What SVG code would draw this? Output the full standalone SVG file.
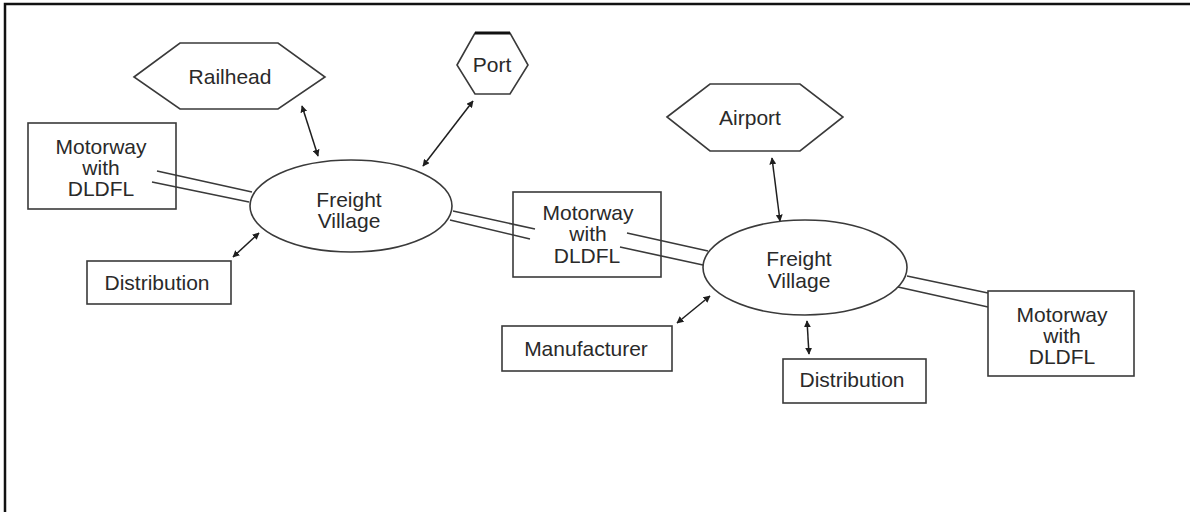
<svg xmlns="http://www.w3.org/2000/svg" width="1190" height="512" viewBox="0 0 1190 512">
  <style>
    .shape { fill: #ffffff; stroke: #3a3a3a; stroke-width: 1.6; }
    .road { fill: none; stroke: #3a3a3a; stroke-width: 1.6; }
    .link { fill: none; stroke: #1e1e1e; stroke-width: 1.5; marker-start: url(#head); marker-end: url(#head); }
    .label { font-family: "Liberation Sans", Arial, sans-serif; font-size: 21px; fill: #2a2a2a; text-anchor: middle; }
  </style>
  <defs>
    <marker id="head" viewBox="0 0 10 10" refX="9" refY="5" markerWidth="7" markerHeight="7" markerUnits="userSpaceOnUse" orient="auto-start-reverse">
      <path d="M0,0 L10,5 L0,10 Z" fill="#1e1e1e"/>
    </marker>
  </defs>

  <rect width="1190" height="512" fill="#ffffff"/>
  <!-- page frame (top and left edges) -->
  <path d="M5,520 V4 H1200" fill="none" stroke="#111" stroke-width="2.5"/>

  <!-- motorway links (double lines) -->
  <g id="roads">
    <path class="road" d="M157,171 L252,192 M152,182 L249,202"/>
    <path class="road" d="M453,211 L535,229 M450,220 L530,239"/>
    <path class="road" d="M627,233 L708,251 M620,247 L703,265"/>
    <path class="road" d="M907,276 L988,293 M898,287 L988,307"/>
  </g>

  <!-- two-way connectors -->
  <g id="connectors">
    <path class="link" d="M302,106 L318,156"/>
    <path class="link" d="M473,101 L423,166"/>
    <path class="link" d="M233,257 L259,233"/>
    <path class="link" d="M772,158 L780,221"/>
    <path class="link" d="M677,323 L710,296"/>
    <path class="link" d="M807,321 L809,354"/>
  </g>

  <g id="railhead">
    <polygon class="shape" points="134,77 180,43 278,43 325,77 278,109 180,109"/>
    <text class="label" x="230" y="84">Railhead</text>
  </g>

  <g id="port">
    <polygon class="shape" points="457,65 475,33 510,33 528,65 510,94 475,94"/>
    <line x1="475" y1="33" x2="510" y2="33" stroke="#111" stroke-width="3"/>
    <text class="label" x="492" y="72">Port</text>
  </g>

  <g id="airport">
    <polygon class="shape" points="667,117 710,84 800,84 843,117 800,151 710,151"/>
    <text class="label" x="750" y="125">Airport</text>
  </g>

  <g id="motorway-west">
    <rect class="shape" x="28" y="123" width="148" height="86" style="fill:none"/>
    <text class="label" x="101" y="154">Motorway</text>
    <text class="label" x="101" y="175">with</text>
    <text class="label" x="101" y="196">DLDFL</text>
  </g>

  <g id="freight-village-west">
    <ellipse class="shape" cx="351" cy="206" rx="101" ry="46"/>
    <text class="label" x="349" y="207">Freight</text>
    <text class="label" x="349" y="228">Village</text>
  </g>

  <g id="distribution-west">
    <rect class="shape" x="87" y="261" width="144" height="43"/>
    <text class="label" x="157" y="290">Distribution</text>
  </g>

  <g id="motorway-middle">
    <rect class="shape" x="513" y="192" width="148" height="85" style="fill:none"/>
    <text class="label" x="588" y="220">Motorway</text>
    <text class="label" x="588" y="241">with</text>
    <text class="label" x="587" y="263">DLDFL</text>
  </g>

  <g id="freight-village-east">
    <ellipse class="shape" cx="805" cy="267.5" rx="102" ry="47.5"/>
    <text class="label" x="799" y="266">Freight</text>
    <text class="label" x="799" y="288">Village</text>
  </g>

  <g id="manufacturer">
    <rect class="shape" x="502" y="326" width="170" height="45"/>
    <text class="label" x="586" y="356">Manufacturer</text>
  </g>

  <g id="distribution-east">
    <rect class="shape" x="783" y="359" width="143" height="44"/>
    <text class="label" x="852" y="387">Distribution</text>
  </g>

  <g id="motorway-east">
    <rect class="shape" x="988" y="291" width="146" height="85"/>
    <text class="label" x="1062" y="322">Motorway</text>
    <text class="label" x="1062" y="343">with</text>
    <text class="label" x="1062" y="364">DLDFL</text>
  </g>
</svg>
